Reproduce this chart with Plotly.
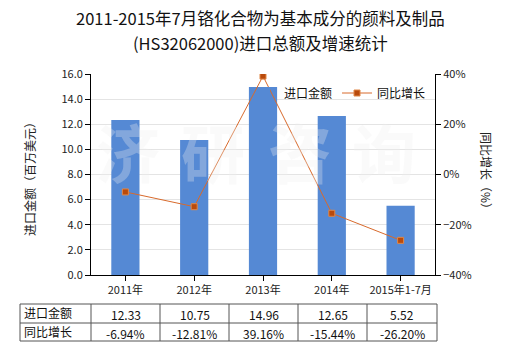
import plotly.graph_objects as go

# Import value (million USD) and year-on-year growth (%)
categories = ["2011年", "2012年", "2013年", "2014年", "2015年1-7月"]
import_value = [12.33, 10.75, 14.96, 12.65, 5.52]
growth_pct = [-6.94, -12.81, 39.16, -15.44, -26.20]
value_labels = ["12.33", "10.75", "14.96", "12.65", "5.52"]
growth_labels = ["-6.94%", "-12.81%", "39.16%", "-15.44%", "-26.20%"]
row_names = ["进口金额", "同比增长"]
watermark_chars = ["济", "研", "咨", "询"]

FONT = "Noto Sans CJK SC, Noto Sans, sans-serif"
W, H = 520, 350
L, R, T, B = 91, 85, 74, 75
PW, PH = W - L - R, H - T - B


def px_x(x):
    return (x - L) / PW


def px_y(y):
    return (H - B - y) / PH


fig = go.Figure()
fig.add_trace(go.Bar(
    x=categories, y=import_value, name="进口金额",
    marker=dict(color="#5589D4", line=dict(width=0)),
    yaxis="y",
))
fig.add_trace(go.Scatter(
    x=categories, y=growth_pct, name="同比增长",
    mode="lines+markers",
    line=dict(color="#D86A2C", width=1),
    marker=dict(symbol="square", size=6, color="#B94A0C",
                line=dict(color="#E08848", width=1)),
    yaxis="y2",
))

ann = []
# Title
for text, yy in [("2011-2015年7月铬化合物为基本成分的颜料及制品", 18),
                 ("(HS32062000)进口总额及增速统计", 43)]:
    ann.append(dict(text=text, xref="paper", yref="paper",
                    x=px_x(260), y=px_y(yy), showarrow=False,
                    font=dict(size=16.5, color="#111", family=FONT),
                    xanchor="center", yanchor="middle"))
# Axis titles
ann.append(dict(text="进口金额（百万美元）", xref="paper", yref="paper", x=px_x(29), y=px_y(176),
                textangle=-90, showarrow=False, xanchor="center", yanchor="middle",
                font=dict(size=12, color="#222", family=FONT)))
ann.append(dict(text="同比增长（%）", xref="paper", yref="paper", x=px_x(487), y=px_y(173),
                textangle=90, showarrow=False, xanchor="center", yanchor="middle",
                font=dict(size=12, color="#222", family=FONT)))

# Watermark
wm_x = [128, 213, 300, 384]
for ch, cx in zip(watermark_chars, wm_x):
    ann.append(dict(text="<b>" + ch + "</b>", xref="paper", yref="paper", x=px_x(cx), y=px_y(150),
                    showarrow=False, xanchor="center", yanchor="middle",
                    font=dict(size=64, color="rgba(240,240,240,0.3)", family=FONT)))

# Data table below the chart
col_edges = [20, 91, 160, 229, 298, 367, 437]
row_edges = [304, 323, 341]
shapes = []
for x in col_edges:
    shapes.append(dict(type="line", xref="paper", yref="paper",
                       x0=px_x(x), x1=px_x(x), y0=px_y(row_edges[0]), y1=px_y(row_edges[-1]),
                       line=dict(color="#555", width=1)))
for y in row_edges:
    shapes.append(dict(type="line", xref="paper", yref="paper",
                       x0=px_x(col_edges[0]), x1=px_x(col_edges[-1]), y0=px_y(y), y1=px_y(y),
                       line=dict(color="#555", width=1)))

rows = [value_labels, growth_labels]
for r, (name, labels) in enumerate(zip(row_names, rows)):
    yc = (row_edges[r] + row_edges[r + 1]) / 2
    ann.append(dict(text=name, xref="paper", yref="paper", x=px_x(22), y=px_y(yc - 1),
                    xanchor="left", yanchor="middle", showarrow=False,
                    font=dict(size=12, color="#111", family=FONT)))
    for i, t in enumerate(labels):
        xc = (col_edges[i + 1] + col_edges[i + 2]) / 2
        ann.append(dict(text=t, xref="paper", yref="paper", x=px_x(xc), y=px_y(yc + 1),
                        xanchor="center", yanchor="middle", showarrow=False,
                        font=dict(size=12, color="#111", family=FONT)))

fig.update_layout(
    width=W, height=H,
    margin=dict(l=L, r=R, t=T, b=B),
    paper_bgcolor="white", plot_bgcolor="white",
    font=dict(family=FONT, size=11, color="#222"),
    bargap=0.59,
    showlegend=True,
    legend=dict(orientation="h", x=px_x(244), y=px_y(93), xanchor="left", yanchor="middle",
                bgcolor="rgba(0,0,0,0)", font=dict(size=12, color="#111", family=FONT),
                itemwidth=30),
    xaxis=dict(showline=True, linecolor="#000", linewidth=1, ticks="outside", ticklen=5,
               tickcolor="#000", tickfont=dict(size=11, color="#222"), showgrid=False),
    yaxis=dict(range=[0, 16], dtick=2, tickformat=".1f", showline=True, linecolor="#000",
               linewidth=1, ticks="outside", ticklen=5, tickcolor="#000",
               gridcolor="#E4E4E4", gridwidth=1, zeroline=False,
               tickfont=dict(size=11, color="#222")),
    yaxis2=dict(range=[-40, 40], dtick=20, ticksuffix="%", overlaying="y", side="right",
                showline=True, linecolor="#000", linewidth=1, ticks="outside", ticklen=5,
                tickcolor="#000", showgrid=False, zeroline=False,
                tickfont=dict(size=11, color="#222")),
    annotations=ann,
    shapes=shapes,
)

fig.write_html("out.html")
